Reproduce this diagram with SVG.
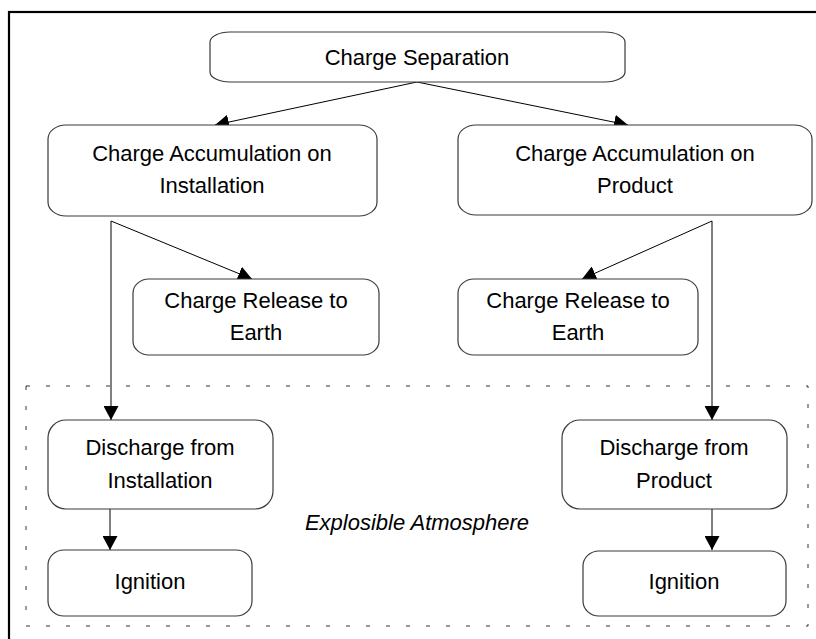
<svg xmlns="http://www.w3.org/2000/svg" width="816" height="639" viewBox="0 0 816 639">
  <style>
    .box { fill: #ffffff; stroke: #3a3a3a; stroke-width: 1.2; }
    .lbl { font-family: "Liberation Sans", Arial, sans-serif; font-size: 22px; fill: #000; text-anchor: middle; }
    .conn { stroke: #000; stroke-width: 1; fill: none; marker-end: url(#arrow); }
    .zone { fill: none; stroke: #333; stroke-width: 1; stroke-dasharray: 4 16; }
  </style>
  <defs>
    <marker id="arrow" markerUnits="userSpaceOnUse" markerWidth="14" markerHeight="15" refX="14" refY="7.5" orient="auto">
      <path d="M0,0 L14,7.5 L0,15 z" fill="#000"/>
    </marker>
  </defs>

  <rect width="816" height="639" fill="#ffffff"/>
  <!-- page frame -->
  <rect x="9" y="12" width="830" height="660" fill="none" stroke="#000" stroke-width="2.2"/>

  <!-- hazardous zone boundary -->
  <g id="explosible-atmosphere">
    <rect class="zone" x="26" y="386" width="782" height="240"/>
    <text class="lbl" x="417" y="530" font-style="italic">Explosible Atmosphere</text>
  </g>

  <g id="connectors">
    <line class="conn" x1="417" y1="82" x2="215" y2="125"/>
    <line class="conn" x1="417" y1="82" x2="628" y2="125"/>
    <line class="conn" x1="111" y1="221" x2="111" y2="420"/>
    <line class="conn" x1="111" y1="221" x2="252" y2="279"/>
    <line class="conn" x1="712" y1="221" x2="712" y2="420"/>
    <line class="conn" x1="712" y1="221" x2="582" y2="279"/>
    <line class="conn" x1="110" y1="509" x2="110" y2="550"/>
    <line class="conn" x1="712" y1="509" x2="712" y2="550"/>
  </g>

  <g id="charge-separation">
    <rect class="box" x="210" y="32" width="415" height="50" rx="20" ry="10"/>
    <text class="lbl" x="417" y="65">Charge Separation</text>
  </g>

  <g id="accumulation-installation">
    <rect class="box" x="48" y="125" width="329" height="91" rx="18" ry="14"/>
    <text class="lbl" x="212" y="161">Charge Accumulation on</text>
    <text class="lbl" x="212" y="193">Installation</text>
  </g>

  <g id="accumulation-product">
    <rect class="box" x="458" y="125" width="354" height="90" rx="18" ry="14"/>
    <text class="lbl" x="635" y="161">Charge Accumulation on</text>
    <text class="lbl" x="635" y="193">Product</text>
  </g>

  <g id="release-installation">
    <rect class="box" x="133" y="279" width="246" height="76" rx="16" ry="14"/>
    <text class="lbl" x="256" y="308">Charge Release to</text>
    <text class="lbl" x="256" y="340">Earth</text>
  </g>

  <g id="release-product">
    <rect class="box" x="458" y="279" width="240" height="76" rx="16" ry="14"/>
    <text class="lbl" x="578" y="308">Charge Release to</text>
    <text class="lbl" x="578" y="340">Earth</text>
  </g>

  <g id="discharge-installation">
    <rect class="box" x="48" y="420" width="225" height="89" rx="18" ry="18"/>
    <text class="lbl" x="160" y="455">Discharge from</text>
    <text class="lbl" x="160" y="488">Installation</text>
  </g>

  <g id="discharge-product">
    <rect class="box" x="562" y="420" width="225" height="89" rx="18" ry="18"/>
    <text class="lbl" x="674" y="455">Discharge from</text>
    <text class="lbl" x="674" y="488">Product</text>
  </g>

  <g id="ignition-installation">
    <rect class="box" x="48" y="550" width="204" height="66" rx="16" ry="15"/>
    <text class="lbl" x="150" y="589">Ignition</text>
  </g>

  <g id="ignition-product">
    <rect class="box" x="583" y="551" width="203" height="65" rx="16" ry="15"/>
    <text class="lbl" x="684" y="589">Ignition</text>
  </g>
</svg>
